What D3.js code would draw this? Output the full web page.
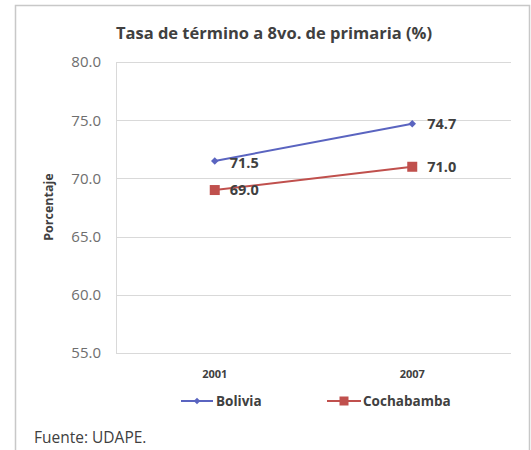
<!DOCTYPE html>
<html><head><meta charset="utf-8">
<script src="https://cdn.jsdelivr.net/npm/d3@7"></script>
<style>body{margin:0;background:#fff}svg{display:block}text{font-family:"Open Sans",sans-serif}</style>
</head><body>
<script>
const categories = ["2001", "2007"];
const bolivia = [71.5, 74.7];
const cochabamba = [69.0, 71.0];
const yTicks = [55, 60, 65, 70, 75, 80];
const seriesNames = ["Bolivia", "Cochabamba"];

const W = 531, H = 450;
const svg = d3.select("body").append("svg").attr("width", W).attr("height", H);
const FONT = "'Open Sans', sans-serif";

// frame
svg.append("path").attr("d", "M15.5,450 V5.5 H529.5 V450").attr("fill", "none").attr("stroke", "#c8c8c8").attr("stroke-width", 1.5);

const m = {left: 116, right: 511, top: 62, bottom: 353};
const x = d3.scaleBand().domain(categories).range([m.left, m.right]);
const y = d3.scaleLinear().domain([55, 80]).range([m.bottom, m.top]);

// gridlines
svg.append("g").selectAll("line").data(yTicks).join("line")
  .attr("x1", m.left).attr("x2", m.right)
  .attr("y1", d => Math.round(y(d)) + 0.5).attr("y2", d => Math.round(y(d)) + 0.5)
  .attr("stroke", "#d9d9d9").attr("stroke-width", 1);
svg.append("line").attr("x1", m.left + 0.5).attr("x2", m.left + 0.5).attr("y1", m.top).attr("y2", m.bottom)
  .attr("stroke", "#d9d9d9");

// y axis labels
const yAxis = d3.axisLeft(y).tickValues(yTicks).tickFormat(d3.format(".1f")).tickSize(0).tickPadding(15);
const ya = svg.append("g").attr("transform", `translate(${m.left},0)`).call(yAxis);
ya.select(".domain").remove();
ya.selectAll("text").attr("font-size", 15).attr("fill", "#6e6e6e").attr("font-family", FONT);

// x axis labels
const xAxis = d3.axisBottom(x).tickSize(0).tickPadding(17);
const xa = svg.append("g").attr("transform", `translate(0,${m.bottom})`).call(xAxis);
xa.select(".domain").remove();
xa.selectAll("text").attr("font-size", 11).attr("font-weight", "bold").attr("fill", "#404040").attr("font-family", FONT);

// title
svg.append("text").attr("x", 274).attr("y", 39).attr("text-anchor", "middle")
  .attr("font-size", 16.5).attr("font-weight", "bold").attr("fill", "#404040")
  .text("Tasa de término a 8vo. de primaria (%)");

// y label
svg.append("text").attr("transform", "translate(53,207) rotate(-90)").attr("text-anchor", "middle")
  .attr("font-size", 12.5).attr("font-weight", "bold").attr("fill", "#404040").text("Porcentaje");

const cx = d => x(d) + x.bandwidth() / 2;
const colors = ["#5a64c0", "#c0504d"];
const line = d3.line().x((d, i) => cx(categories[i])).y(d => y(d));
const diamond = d3.symbol(d3.symbolSquare, 28)();

[bolivia, cochabamba].forEach((vals, si) => {
  svg.append("path").datum(vals).attr("d", line).attr("fill", "none")
    .attr("stroke", colors[si]).attr("stroke-width", 2);
  const g = svg.append("g");
  vals.forEach((v, i) => {
    const px = cx(categories[i]), py = y(v);
    if (si === 0) {
      g.append("path").attr("d", diamond).attr("transform", `translate(${px},${py}) rotate(45)`).attr("fill", colors[si]);
    } else {
      g.append("rect").attr("x", px - 5).attr("y", py - 5).attr("width", 10).attr("height", 10).attr("fill", colors[si]);
    }
    svg.append("text").attr("x", px + 15).attr("y", py + (i === 0 && si === 0 ? 1.5 : 0)).attr("dy", "0.35em")
      .attr("font-size", 14.5).attr("font-weight", "bold").attr("fill", "#404040")
      .text(d3.format(".1f")(v));
  });
});

// legend
const legend = [{x1: 181, x2: 213, tx: 216}, {x1: 327, x2: 361, tx: 363}];
legend.forEach((L, si) => {
  const ly = 401;
  svg.append("line").attr("x1", L.x1).attr("x2", L.x2).attr("y1", ly).attr("y2", ly).attr("stroke", colors[si]).attr("stroke-width", 2);
  const mx = (L.x1 + L.x2) / 2;
  if (si === 0) svg.append("path").attr("d", d3.symbol(d3.symbolSquare, 22)()).attr("transform", `translate(${mx},${ly}) rotate(45)`).attr("fill", colors[si]);
  else svg.append("rect").attr("x", mx - 4.5).attr("y", ly - 4.5).attr("width", 9).attr("height", 9).attr("fill", colors[si]);
  svg.append("text").attr("x", L.tx).attr("y", ly).attr("dy", "0.35em").attr("font-size", 13.5).attr("font-weight", "bold").attr("fill", "#404040").text(seriesNames[si]);
});

// source
svg.append("text").attr("x", 34).attr("y", 443).attr("font-size", 15.5).attr("fill", "#404040").text("Fuente: UDAPE.");
</script>
</body></html>
